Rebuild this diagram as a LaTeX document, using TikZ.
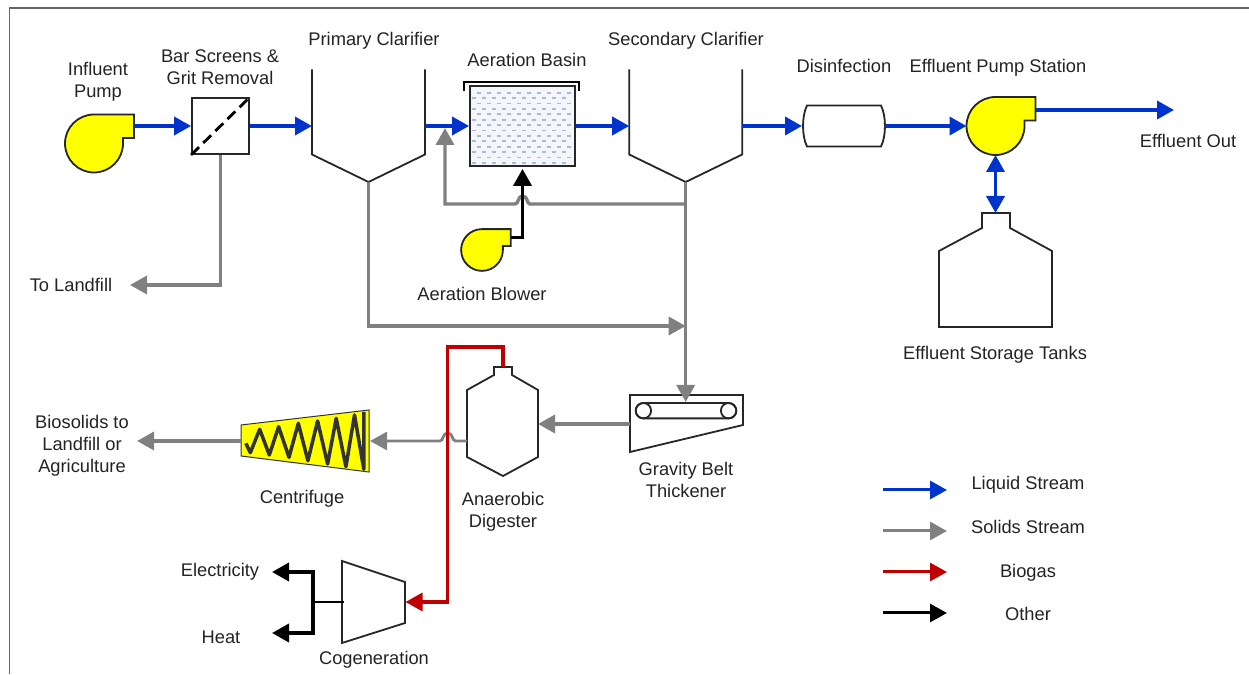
\documentclass[tikz,border=0pt]{standalone}
\usepackage{fontspec}
\setmainfont{Liberation Sans}
\usepackage{xcolor}
\usetikzlibrary{arrows.meta,calc}
\definecolor{liquidblue}{RGB}{0,51,204}
\definecolor{solidgray}{RGB}{128,128,128}
\definecolor{gasred}{RGB}{192,0,0}
\definecolor{pumpyellow}{RGB}{255,255,0}
\definecolor{textdark}{RGB}{35,35,35}
\definecolor{basinfill}{RGB}{244,246,250}
\definecolor{basindash}{RGB}{170,186,210}

\begin{document}
\begin{tikzpicture}[
    x=1pt, y=1pt,
    vessel/.style={draw=black!85, line width=1.8pt, line join=miter},
    lbl/.style={font=\fontsize{18.3}{22}\selectfont, text=textdark, align=center, inner sep=0pt},
    flow/.style={-{Triangle[length=17pt,width=18pt]}, line join=miter},
    liquid/.style={flow, line width=3.6pt, liquidblue},
    solids/.style={flow, line width=3.4pt, solidgray},
    biogas/.style={flow, line width=3.2pt, gasred},
    other/.style={flow, line width=3.6pt, black},
    pump/.pic={
        \draw[vessel, fill=pumpyellow] (0,29) -- (40,29) -- (40,5.5) -- (29,5.5) -- (29,0)
            arc[start angle=0, end angle=-270, radius=29] -- cycle;
        \coordinate (-in) at (-29,0);
        \coordinate (-out) at (40,17.5);
        \coordinate (-bot) at (0,-29);
    },
    clarifier/.pic={
        \draw[vessel] (-56.5,112.5) -- (-56.5,27.5) -- (0,0) -- (56.5,27.5) -- (56.5,112.5);
        \coordinate (-in) at (-56.5,56);
        \coordinate (-out) at (56.5,56);
        \coordinate (-bot) at (0,0);
    }
]
    \useasboundingbox (0,0) rectangle (1249,674);
    \draw[line width=1.5pt, black!60] (1249,666) -- (9.5,666) -- (9.5,0);

    % main liquid train
    \pic (infpump) at (94,530.5) {pump};
    \node[vessel, fill=white, minimum width=57pt, minimum height=56pt, inner sep=0pt] (screen) at (220.5,548) {};
    \draw[black, line width=2.8pt, dash pattern=on 11pt off 6pt] (screen.south west) -- (screen.north east);
    \pic (clarone) at (368.5,492) {clarifier};
    \node[vessel, fill=basinfill, minimum width=105pt, minimum height=80pt, inner sep=0pt] (basin) at (522.5,548) {};
    \foreach \r in {0,...,13} {
        \foreach \c in {0,...,9} {
            \pgfmathsetmacro{\px}{3+10*\c+5*mod(\r,2)}
            \pgfmathsetmacro{\py}{4+5.4*\r}
            \draw[basindash, line width=1.7pt] ([shift={(\px,\py)}]basin.south west) -- ++(3.5,0);
        }
    }
    \draw[black, line width=2.4pt] ([shift={(-5,-6)}]basin.north west) -- ++(0,9) -- ++(115,0) -- ++(0,-9);
    \pic (clartwo) at (685.7,492) {clarifier};
    \draw[vessel, fill=white] (807,568.5) -- (881,568.5) .. controls (886.3,558) and (886.3,538) .. (881,527.5)
        -- (807,527.5) .. controls (801.7,538) and (801.7,558) .. (807,568.5) -- cycle;
    \coordinate (disinf-in) at (802,548);
    \coordinate (disinf-out) at (885,548);
    \pic (effpump) at (995.5,548) {pump};
    \coordinate (effout) at (1174,564);
    \draw[vessel, fill=white] (982,461) -- (1010,461) -- (1010,446) -- (1052,423) -- (1052,347)
        -- (939,347) -- (939,423) -- (982,446) -- cycle;
    \coordinate (efftank-top) at (995.5,461);
    \pic[scale=.72] (blower) at (482,424) {pump};

    % solids handling
    \draw[vessel, fill=white] (630,279) -- (743,279) -- (743,249) -- (630,222) -- cycle;
    \draw[vessel] (643.4,271) -- (728.6,271) arc[start angle=90, end angle=-90, radius=7.7]
        -- (643.4,255.6) arc[start angle=270, end angle=90, radius=7.7];
    \draw[vessel] (643.4,263.3) circle[radius=7.7];
    \draw[vessel] (728.6,263.3) circle[radius=7.7];
    \coordinate (thick-top) at (685.7,272);
    \coordinate (thick-left) at (630,250);
    \coordinate (trunkjoin) at (685.7,348);
    \coordinate (rasjoin) at (685.7,470);
    \coordinate (rastip) at (445,546);
    \coordinate (landfilltip) at (130,389);
    \draw[vessel, fill=white] (494,307) -- (512,307) -- (512,299) -- (538,284) -- (538,217) -- (503,198)
        -- (467,217) -- (467,284) -- (494,299) -- cycle;
    \coordinate (dig-top) at (503,307);
    \coordinate (dig-right) at (538,250);
    \coordinate (dig-left) at (467,233);
    \coordinate (gasbend) at (447.6,327);
    \draw[draw=black!80, fill=pumpyellow, line width=1pt] (241,249) -- (369,264) -- (369,202) -- (241,218) -- cycle;
    \draw[black!80, line width=3.5pt, line join=round] (245.9,230.7) -- (250.3,221.3) -- (259.7,244.7) -- (269.3,219)
        -- (278.6,247.3) -- (289,216.7) -- (298.3,250.7) -- (307.9,213.3) -- (317.6,253) -- (327.6,210)
        -- (336.2,255.7) -- (345.9,207.3) -- (354.5,259) -- (363.8,204.7) -- (363.8,262);
    \coordinate (cent-right) at (370,233);
    \coordinate (cent-left) at (241,233);
    \coordinate (biotip) at (137,233);
    \draw[vessel, fill=white] (342,113) -- (405,92) -- (405,51) -- (342,31) -- cycle;
    \coordinate (cogen-in) at (405.5,72);
    \coordinate (cogen-out) at (344,72);
    \coordinate (cogjoin) at (313,72);
    \coordinate (electip) at (272,102);
    \coordinate (heattip) at (272,41);

    % streams
    \draw[liquid] (infpump-out) -- (screen.west);
    \draw[liquid] (screen.east) -- (clarone-in);
    \draw[liquid] (clarone-out) -- (basin.west);
    \draw[liquid] (basin.east) -- (clartwo-in);
    \draw[liquid] (clartwo-out) -- (disinf-in);
    \draw[liquid] (disinf-out) -- (effpump-in);
    \draw[liquid] ([yshift=-1.5pt]effpump-out) -- (effout);
    \draw[liquid, {Triangle[length=17pt,width=18pt]}-{Triangle[length=17pt,width=18pt]}] (effpump-bot) -- (efftank-top);

    \draw[solids] (screen.south) |- (landfilltip);
    \draw[solids] (clartwo-bot) -- (thick-top);
    \draw[solids] (clarone-bot) |- (trunkjoin);
    \draw[solids] (rasjoin) -- (530,470) .. controls (526.5,470) and (528,478) .. (522.7,478)
        .. controls (517.5,478) and (519,470) .. (515,470) -| (rastip);
    \draw[solids] (thick-left) -- (dig-right);
    \draw[solids, line width=2.8pt] (dig-left) -- (455.5,233) .. controls (452,233) and (453,241) .. (447.7,241)
        .. controls (442.5,241) and (443.5,233) .. (440,233) -- (cent-right);
    \draw[solids] (cent-left) -- (biotip);
    \draw[biogas] (dig-top) |- (gasbend) |- (cogen-in);
    \draw[other] (blower-out) -| ([yshift=-2pt]basin.south);
    \draw[black, line width=2pt] (cogen-out) -- (cogjoin);
    \draw[other] (cogjoin) |- (electip);
    \draw[other] (cogjoin) |- (heattip);

    % labels
    \node[lbl] (lblinf) at (98,592) {Influent\\Pump};
    \node[lbl] (lblscreen) at (220,607) {Bar Screens \&\\Grit Removal};
    \node[lbl] (lblclarone) at (374,633) {Primary Clarifier};
    \node[lbl] (lblbasin) at (527,614) {Aeration Basin};
    \node[lbl] (lblclartwo) at (686,633) {Secondary Clarifier};
    \node[lbl] (lbldisinf) at (844,608) {Disinfection};
    \node[lbl] (lbleffpump) at (998,606) {Effluent Pump Station};
    \node[lbl] (lbleffout) at (1188,533) {Effluent Out};
    \node[lbl] (lbltank) at (995,319) {Effluent Storage Tanks};
    \node[lbl] (lblblower) at (482,380) {Aeration Blower};
    \node[lbl] (lbllandfill) at (71,389) {To Landfill};
    \node[lbl] (lblthick) at (686,194.5) {Gravity Belt\\Thickener};
    \node[lbl] (lbldig) at (503,162) {Anaerobic\\Digester};
    \node[lbl] (lblcent) at (302,175) {Centrifuge};
    \node[lbl] (lblbio) at (82,228) {Biosolids to\\Landfill or\\Agriculture};
    \node[lbl] (lblelec) at (220,102) {Electricity};
    \node[lbl] (lblheat) at (221,37) {Heat};
    \node[lbl] (lblcogen) at (374,14) {Cogeneration};

    % legend
    \foreach \nm/\sty/\txt/\ya/\yb in {legliquid/liquid/Liquid Stream/184/189, legsolids/solids/Solids Stream/143/147,
                                       leggas/biogas/Biogas/102/101, legother/other/Other/61/60} {
        \coordinate (\nm a) at (883,\ya);
        \coordinate (\nm b) at (947,\ya);
        \draw[\sty, line width=3pt] (\nm a) -- (\nm b);
        \node[lbl] (\nm) at (1028,\yb) {\txt};
    }
\end{tikzpicture}
\end{document}
